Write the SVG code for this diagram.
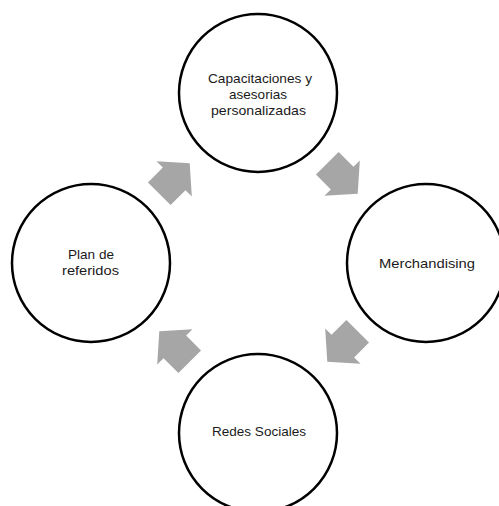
<svg xmlns="http://www.w3.org/2000/svg" width="499" height="506" viewBox="0 0 499 506">
<defs>
<style>
.node{fill:#ffffff;stroke:#000000;stroke-width:2.5}
.lbl{font-family:"Liberation Sans",Arial,sans-serif;font-size:13.5px;fill:#1a1a1a;text-anchor:middle}
.arr{fill:#A6A6A6}
</style>
<path id="arrowShape" d="M-21.5,-16 L-0.5,-16 L-0.5,-25 L21.5,0 L-0.5,25 L-0.5,16 L-21.5,16 Z"/>
</defs>
<rect width="499" height="506" fill="#ffffff"/>
<g id="connectors">
<use href="#arrowShape" class="arr" transform="translate(174.5,178.5) rotate(-45)"/>
<use href="#arrowShape" class="arr" transform="translate(342.5,178.5) rotate(45)"/>
<use href="#arrowShape" class="arr" transform="translate(342.5,346.5) rotate(135)"/>
<use href="#arrowShape" class="arr" transform="translate(174.5,346.5) rotate(-135)"/>
</g>
<g id="node-capacitaciones">
<circle class="node" cx="258" cy="93" r="79"/>
<text class="lbl" x="260" y="83" textLength="104" lengthAdjust="spacingAndGlyphs">Capacitaciones y</text>
<text class="lbl" x="258" y="99" textLength="58" lengthAdjust="spacingAndGlyphs">asesorias</text>
<text class="lbl" x="258.5" y="115" textLength="95" lengthAdjust="spacingAndGlyphs">personalizadas</text>
</g>
<g id="node-merchandising">
<circle class="node" cx="426" cy="263" r="79"/>
<text class="lbl" x="427" y="268" textLength="96" lengthAdjust="spacingAndGlyphs">Merchandising</text>
</g>
<g id="node-redes">
<circle class="node" cx="258" cy="433" r="79"/>
<text class="lbl" x="259" y="436" textLength="94" lengthAdjust="spacingAndGlyphs">Redes Sociales</text>
</g>
<g id="node-plan">
<circle class="node" cx="91" cy="263" r="79"/>
<text class="lbl" x="91" y="259" textLength="46" lengthAdjust="spacingAndGlyphs">Plan de</text>
<text class="lbl" x="90.5" y="275" textLength="57" lengthAdjust="spacingAndGlyphs">referidos</text>
</g>
</svg>
